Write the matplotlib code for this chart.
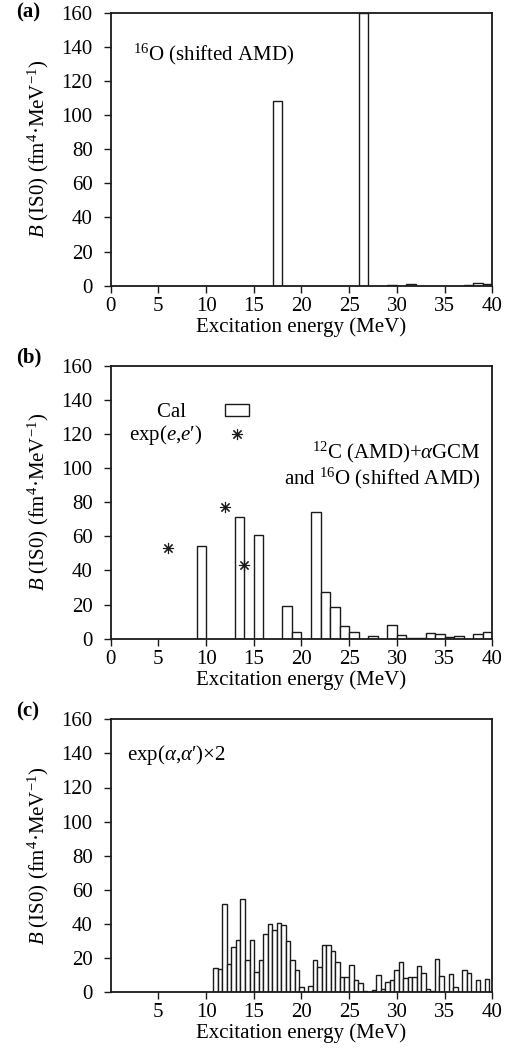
import matplotlib
matplotlib.use("Agg")
import matplotlib.pyplot as plt
from matplotlib.patches import Patch
from matplotlib.lines import Line2D

plt.rcParams['font.family'] = ['Liberation Serif', 'DejaVu Serif']
plt.rcParams['mathtext.fontset'] = 'custom'
plt.rcParams['mathtext.rm'] = 'Liberation Serif'
plt.rcParams['mathtext.it'] = 'Liberation Serif:italic'
plt.rcParams['mathtext.bf'] = 'Liberation Serif:bold'

# ---------------- data ----------------
# (a) 16O (shifted AMD), 1 MeV bins
a_energy = [17.5, 26.5, 29.5, 31.5, 37.5, 38.5, 39.5]
a_strength = [108.0, 159.6, 0.3, 0.8, 0.4, 1.4, 0.8]

# (b) 12C (AMD)+aGCM and 16O (shifted AMD), 1 MeV bins
b_energy = [9.5, 13.5, 15.5, 18.5, 19.5, 21.5, 22.5, 23.5, 24.5, 25.5,
            27.5, 29.5, 30.5, 31.5, 32.5, 33.5, 34.5, 35.5, 36.5, 38.5, 39.5]
b_strength = [54.6, 71.6, 60.5, 19.1, 4.1, 74.3, 27.1, 18.4, 7.6, 3.7,
              1.4, 8.0, 2.0, 0.4, 0.4, 3.1, 2.8, 1.0, 1.4, 2.8, 4.0]

# (b) exp(e,e')
ee_energy = [6.0, 12.0, 14.0]
ee_strength = [53.2, 77.2, 43.1]

# (c) exp(alpha,alpha') x2, ~0.474 MeV bins
c_bin_width = 0.474
c_energy = [11.00, 11.47, 11.95, 12.42, 12.89, 13.37, 13.84, 14.32, 14.79, 15.26,
            15.74, 16.21, 16.69, 17.16, 17.63, 18.11, 18.58, 19.06, 19.53, 20.00,
            20.48, 20.95, 21.43, 21.90, 22.37, 22.85, 23.32, 23.80, 24.27, 24.74,
            25.22, 25.69, 26.17, 26.64, 27.11, 27.59, 28.06, 28.54, 29.01, 29.48,
            29.96, 30.43, 30.91, 31.38, 31.85, 32.33, 32.80, 33.28, 33.75, 34.22,
            34.70, 35.17, 35.65, 36.12, 36.59, 37.07, 37.54, 38.02, 38.49, 38.96,
            39.44]
c_strength = [14.4, 13.4, 51.6, 16.5, 26.7, 30.4, 54.6, 18.7, 30.4, 12.1,
              18.7, 34.3, 40.1, 36.2, 40.7, 39.2, 29.8, 18.7, 12.9, 2.9,
              0.0, 3.9, 18.9, 14.8, 27.5, 27.5, 24.2, 17.9, 8.8, 9.2,
              16.2, 7.2, 5.5, 0.5, 0.0, 1.2, 10.3, 1.8, 6.2, 7.4,
              13.0, 17.5, 8.4, 8.8, 8.8, 15.2, 11.3, 1.8, 1.0, 19.3,
              9.4, 0.0, 10.9, 2.9, 0.0, 13.0, 11.5, 0.0, 7.4, 0.0,
              7.6]

yticks = [0, 20, 40, 60, 80, 100, 120, 140, 160]
xticks_ab = [0, 5, 10, 15, 20, 25, 30, 35, 40]
xticks_c = [5, 10, 15, 20, 25, 30, 35, 40]

FS = 15
INK = '#1a1a1a'
fig = plt.figure(figsize=(5.11, 10.50), dpi=100)

L, W, H = 0.2166, 0.7468, 0.2600
ax_a = fig.add_axes([L, 0.7279, W, H])
ax_b = fig.add_axes([L, 0.3917, W, H])
ax_c = fig.add_axes([L, 0.0550, W, H])

bar_kw = dict(facecolor='white', edgecolor=INK, linewidth=1.0)

ax_a.bar(a_energy, a_strength, width=1.0, **bar_kw)
ax_b.bar(b_energy, b_strength, width=1.0, **bar_kw)
ax_c.bar(c_energy, c_strength, width=c_bin_width, **bar_kw)
ax_b.plot(ee_energy, ee_strength, ls='none', marker=(8, 2, 0), ms=8,
          mew=0.8, color=INK)

for ax, xt, lab, ly in [(ax_a, xticks_ab, '(a)', 1.0), (ax_b, xticks_ab, '(b)', 1.03),
                        (ax_c, xticks_c, '(c)', 1.027)]:
    ax.set_xlim(0, 40)
    ax.set_ylim(0, 160)
    ax.set_xticks(xt)
    ax.set_yticks(yticks)
    ax.tick_params(direction='out', length=5, width=1.0, labelsize=FS,
                   top=False, right=False, color=INK)
    ax.tick_params(axis='y', pad=8)
    ax.tick_params(axis='x', pad=3)
    for s in ax.spines.values():
        s.set_linewidth(1.3)
        s.set_color(INK)
    ax.set_xlabel('Excitation energy (MeV)', fontsize=FS, labelpad=1)
    ax.set_ylabel(r'$B$ (IS0) (fm$^4$·MeV$^{-1}$)', fontsize=FS)
    ax.yaxis.set_label_coords(-0.157, 0.5)
    ax.text(-0.248, ly, lab, transform=ax.transAxes, fontsize=FS,
            fontweight='bold', ha='left', va='center')

ax_a.text(0.058, 0.847, r'$^{16}$O (shifted AMD)', transform=ax_a.transAxes,
          fontsize=FS, ha='left', va='center')
ax_b.text(0.970, 0.636, '$^{12}$C (AMD)+$\\alpha$GCM\nand $^{16}$O (shifted AMD)',
          transform=ax_b.transAxes, fontsize=FS, ha='right', va='center',
          multialignment='right', linespacing=1.05)
ax_c.text(0.042, 0.870, 'exp($\\alpha$,$\\alpha$\u2032)×2', transform=ax_c.transAxes,
          fontsize=FS, ha='left', va='center')

handles = [Patch(facecolor='white', edgecolor=INK, linewidth=1.0),
           Line2D([], [], ls='none', marker=(8, 2, 0), ms=8, mew=0.8, color=INK)]
ax_b.legend(handles, ['Cal   ', 'exp($e$,$e$\u2032)'], loc='upper left',
            bbox_to_anchor=(0.02, 0.90), frameon=False, markerfirst=False,
            fontsize=FS, handlelength=1.17, handleheight=0.55,
            handletextpad=1.1, labelspacing=0.05, borderpad=0.0)

fig.savefig('out.png', dpi=100)
